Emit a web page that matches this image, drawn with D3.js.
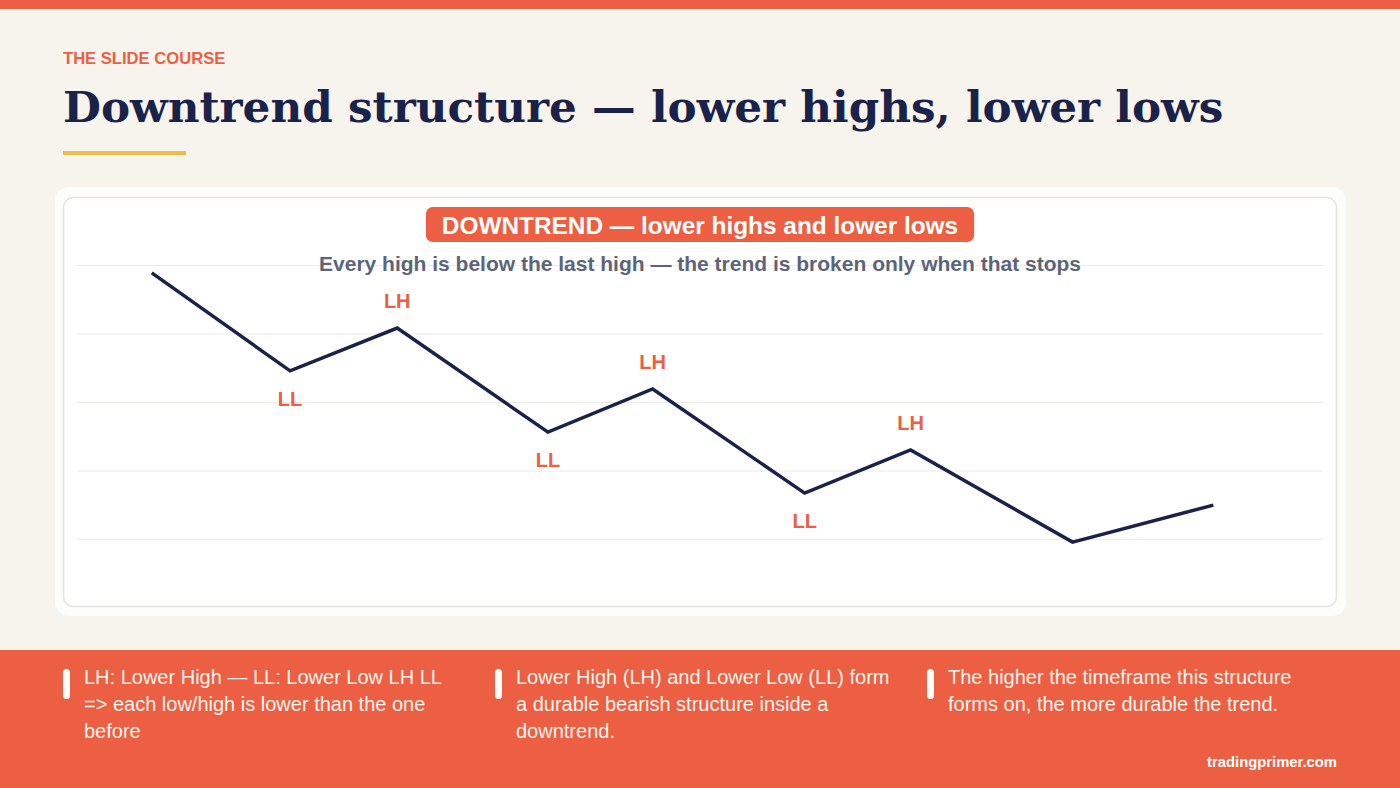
<!DOCTYPE html>
<html>
<head>
<meta charset="utf-8">
<script src="https://cdn.jsdelivr.net/npm/d3@7"></script>
<style>
  html, body { margin: 0; padding: 0; background: #f7f4ee; }
  svg { display: block; }
</style>
</head>
<body>
<svg id="chart"></svg>
<script>
// swing points of the downtrend (x = time, y = price)
const times = [6, 17.1, 25.7, 37.8, 46.2, 58.4, 66.9, 79.9, 91.2]
const prices = [97.7, 69.1, 81.6, 51.2, 63.8, 33.4, 46, 19.1, 29.9]
const pointLabels = ['', 'LL', 'LH', 'LL', 'LH', 'LL', 'LH', '', '']
const gridValues = [20, 40, 60, 80, 100]

const kicker = 'THE SLIDE COURSE'
const title = 'Downtrend structure — lower highs, lower lows'
const badge = 'DOWNTREND — lower highs and lower lows'
const subtitle = 'Every high is below the last high — the trend is broken only when that stops'
const notes = [
	'LH: Lower High — LL: Lower Low LH LL => each low/high is lower than the one before',
	'Lower High (LH) and Lower Low (LL) form a durable bearish structure inside a downtrend.',
	'The higher the timeframe this structure forms on, the more durable the trend.',
]
const source = 'tradingprimer.com'

const W = 1400
const H = 788
const orange = '#ec5f42'
const navy = '#1b2249'
const sans = '"Liberation Sans", Arial, sans-serif'

const svg = d3.select('#chart')
	.attr('width', W)
	.attr('height', H)

// page background + top bar
svg.append('rect').attr('width', W).attr('height', H).attr('fill', '#f7f4ee')
svg.append('rect').attr('width', W).attr('height', 9).attr('fill', orange)

// header
svg.append('text')
	.attr('x', 63).attr('y', 64)
	.attr('font-family', sans).attr('font-weight', 700).attr('font-size', 16.6)
	.attr('fill', orange)
	.text(kicker)

svg.append('text')
	.attr('x', 63).attr('y', 122)
	.attr('font-family', '"DejaVu Serif", serif').attr('font-weight', 700).attr('font-size', 43.7)
	.attr('fill', navy)
	.text(title)

svg.append('rect')
	.attr('x', 63).attr('y', 151).attr('width', 123).attr('height', 4)
	.attr('fill', '#ebbd4a')

// chart card
svg.append('rect')
	.attr('x', 55).attr('y', 187).attr('width', 1291).attr('height', 429)
	.attr('rx', 14).attr('fill', '#fdfdfc')

svg.append('rect')
	.attr('x', 63.5).attr('y', 197.5).attr('width', 1273).attr('height', 409)
	.attr('rx', 10).attr('fill', '#ffffff')
	.attr('stroke', '#e6e4de').attr('stroke-width', 1.5)

// scales
const x = d3.scaleLinear().domain([0, 100]).range([77, 1323])
const y = d3.scaleLinear().domain([20, 100]).range([539, 265])

// gridlines
svg.append('g')
	.attr('class', 'grid')
	.attr('transform', 'translate(77, 0)')
	.call(d3.axisLeft(y)
		.tickValues(gridValues)
		.tickSize(-(x(100) - x(0)))
		.tickFormat('')
	)
	.call(g => g.select('.domain').remove())
	.call(g => g.selectAll('.tick line').attr('stroke', '#ebebe8').attr('stroke-width', 1.2))

// subtitle sits over the top grid line
svg.append('text')
	.attr('x', 700).attr('y', 271)
	.attr('text-anchor', 'middle')
	.attr('font-family', sans).attr('font-weight', 700).attr('font-size', 21)
	.attr('fill', '#5d6479')
	.text(subtitle)

// badge
const badgeText = svg.append('text')
	.attr('x', 700).attr('y', 233.5)
	.attr('text-anchor', 'middle')
	.attr('font-family', sans).attr('font-weight', 700).attr('font-size', 24.4)
	.attr('fill', '#ffffff')
	.text(badge)
const bw = badgeText.node().getComputedTextLength() + 32
svg.insert('rect', () => badgeText.node())
	.attr('x', 700 - bw / 2).attr('y', 207).attr('width', bw).attr('height', 35)
	.attr('rx', 7).attr('fill', orange)

// price path
const rows = times.map((t, i) => ({ t, p: prices[i], label: pointLabels[i] }))

const line = d3.line()
	.x(d => x(d.t))
	.y(d => y(d.p))

svg.append('path')
	.datum(rows)
	.attr('d', line)
	.attr('fill', 'none')
	.attr('stroke', navy)
	.attr('stroke-width', 3.5)
	.attr('stroke-linejoin', 'miter')

svg.append('g')
	.selectAll('text')
	.data(rows.filter(d => d.label))
	.join('text')
	.attr('x', d => x(d.t))
	.attr('y', d => d.label === 'LH' ? y(d.p) - 20 : y(d.p) + 35)
	.attr('text-anchor', 'middle')
	.attr('font-family', sans).attr('font-weight', 700).attr('font-size', 20)
	.attr('fill', orange)
	.text(d => d.label)

// bottom band
svg.append('rect')
	.attr('x', 0).attr('y', 650).attr('width', W).attr('height', H - 650)
	.attr('fill', orange)

const wrap = (textSel, str, width, lineH) => {
	const words = str.split(' ')
	let cur = []
	let tspan = textSel.append('tspan').attr('x', textSel.attr('x')).attr('dy', 0)
	words.forEach(w => {
		cur.push(w)
		tspan.text(cur.join(' '))
		if (tspan.node().getComputedTextLength() > width && cur.length > 1) {
			cur.pop()
			tspan.text(cur.join(' '))
			cur = [w]
			tspan = textSel.append('tspan').attr('x', textSel.attr('x')).attr('dy', lineH).text(w)
		}
	})
}

notes.forEach((n, i) => {
	const cx = 63 + i * 432
	svg.append('rect')
		.attr('x', cx).attr('y', 669).attr('width', 7).attr('height', 30)
		.attr('rx', 3.5).attr('fill', '#ffffff')
	const t = svg.append('text')
		.attr('x', cx + 21).attr('y', 684)
		.attr('font-family', sans).attr('font-size', 20)
		.attr('fill', '#fff4ee')
	wrap(t, n, 380, 27)
})

svg.append('text')
	.attr('x', 1337).attr('y', 767)
	.attr('text-anchor', 'end')
	.attr('font-family', sans).attr('font-weight', 700).attr('font-size', 14.8)
	.attr('fill', '#ffffff')
	.text(source)
</script>
</body>
</html>
